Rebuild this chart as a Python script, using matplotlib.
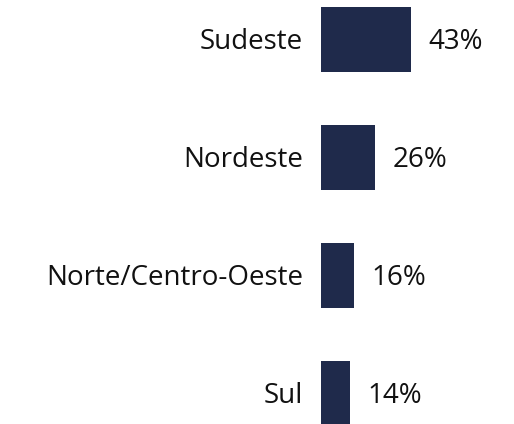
import matplotlib
matplotlib.use("Agg")
import matplotlib.pyplot as plt

# données
regioes = ["Sudeste", "Nordeste", "Norte/Centro-Oeste", "Sul"]
valores = [43, 26, 16, 14]
rotulos = ["43%", "26%", "16%", "14%"]

plt.rcParams['font.family'] = ['Open Sans', 'DejaVu Sans']

fig = plt.figure(figsize=(5.14, 4.24), dpi=100)
ax = fig.add_axes([320.7 / 514, 0, 1 - 320.7 / 514, 1])

pos = range(len(regioes))
ax.barh(pos, valores, height=0.55, color="#1f2a4b")
ax.set_xlim(0, 193.3 / 2.107)
ax.set_ylim(3 + 30.5 / 118, -39.5 / 118)

for i, (v, r) in enumerate(zip(valores, rotulos)):
    ax.text(v + 8, i + 0.02, r, va="center", ha="left", fontsize=20, color="#111111")
    ax.text(-8.3, i + 0.02, regioes[i], va="center", ha="right", fontsize=20,
            color="#111111")

ax.axis("off")
fig.savefig("out.png", dpi=100)
